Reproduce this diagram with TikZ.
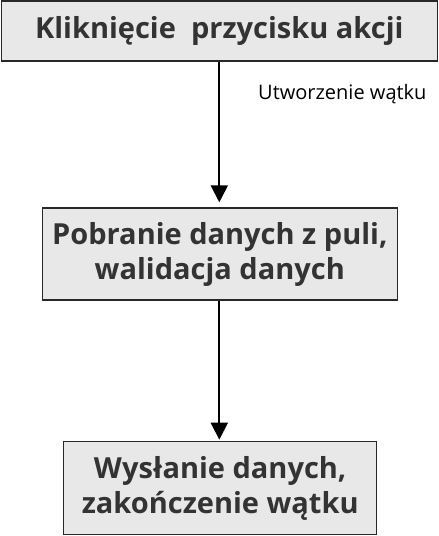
\documentclass[tikz,border=0pt]{standalone}
\usepackage{fontspec}
\setmainfont{Open Sans}
\usetikzlibrary{arrows.meta}
\definecolor{boxgray}{RGB}{232,232,232}
\definecolor{textgray}{RGB}{51,51,51}
\definecolor{edgegray}{RGB}{40,40,40}

\begin{document}
\begin{tikzpicture}[x=1pt, y=1pt,
    stepbox/.style={draw=edgegray, line width=1.3pt, fill=boxgray, text=textgray,
        font=\fontsize{29}{35}\selectfont\bfseries, align=center, inner sep=0pt},
    flow/.style={line width=2pt, -{Triangle[length=17pt, width=17pt]}}]
\useasboundingbox (0,0) rectangle (439,536);

% Steps of the thread
\node[stepbox, minimum width=436pt, minimum height=60pt] (click) at (219.3, 505) {Klikni\k{e}cie\ \ przycisku akcji};
\node[stepbox, minimum width=355pt, minimum height=92pt] (fetch) at (219.8, 282) {Pobranie danych z puli,\\walidacja danych};
\node[stepbox, minimum width=313pt, minimum height=93pt] (send) at (220.2, 47.7) {Wys\l{}anie danych,\\zako\'nczenie w\k{a}tku};

% Connectors
\draw[flow, shorten >=5pt] (click.south -| 219.3,0) -- (fetch.north -| 219.3,0);
\draw[flow, shorten >=1.5pt] (fetch.south -| 219.3,0) -- (send.north -| 219.3,0);

% Label on the first connector
\node[anchor=base west, text=black, font=\fontsize{20}{22}\selectfont, inner sep=0pt] (thread) at (258, 436) {Utworzenie w\k{a}tku};

\end{tikzpicture}
\end{document}
